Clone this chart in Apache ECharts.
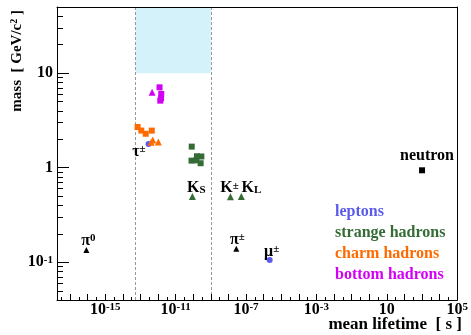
<!DOCTYPE html>
<html><head><meta charset="utf-8">
<script src="https://cdn.jsdelivr.net/npm/echarts@6/dist/echarts.min.js"></script>
<style>html,body{margin:0;padding:0;background:#fff}#c{width:471px;height:335px}</style>
</head><body><div id="c"></div>
<script>
// ---------------- data ----------------
const leptonNames = ['τ±', 'μ±'];
const leptonLifetime = [2.9e-13, 2.2e-6];
const leptonMass = [1.777, 0.1057];

const strangeMesonNames = ['KS', 'K±', 'KL'];
const strangeMesonLifetime = [8.95e-11, 1.3e-8, 5.4e-8];
const strangeMesonMass = [0.4976, 0.4937, 0.4976];
const strangeBaryonLifetime = [8.2e-11, 8.0e-11, 1.48e-10, 2.63e-10, 2.9e-10, 1.64e-10];
const strangeBaryonMass = [1.672, 1.189, 1.197, 1.116, 1.315, 1.322];

const charmMesonLifetime = [4.1e-13, 5.0e-13, 1.04e-12];
const charmMesonMass = [1.865, 1.968, 1.870];
const charmBaryonLifetime = [6.9e-14, 1.12e-13, 2.0e-13, 4.42e-13];
const charmBaryonMass = [2.695, 2.471, 2.286, 2.468];

const bottomMesonLifetime = [4.6e-13];
const bottomMesonMass = [6.28];
const bottomBaryonLifetime = [1.22e-12, 1.52e-12, 1.47e-12, 1.34e-12];
const bottomBaryonMass = [7.08, 6.03, 5.42, 5.12];

const otherTriNames = ['π0', 'π±'];
const otherTriLifetime = [8.5e-17, 2.8e-8];
const otherTriMass = [0.135, 0.1396];
const otherSqNames = ['neutron'];
const otherSqLifetime = [1000];
const otherSqMass = [0.9396];

const boxLifetime = [5.2e-14, 1e-9];
const boxMass = [10, 50];
const xRange = [1.82e-18, 1e5];
const yRange = [0.04, 50];
const xLabelValues = [1e-15, 1e-11, 1e-7, 1e-3, 10, 1e5];
const yLabelValues = [0.1, 1, 10];
const legendNames = ['leptons', 'strange hadrons', 'charm hadrons', 'bottom hadrons'];

// ---------------- style ----------------
const F = 'Liberation Serif';
const colors = {
  'leptons': '#5b5bea', 'strange hadrons': '#356b35',
  'charm hadrons': '#ff6a00', 'bottom hadrons': '#d200f5', 'other': '#000'
};
const rich = {
  b: {fontFamily: F, fontWeight: 'bold', fontSize: 16, color: '#000'},
  sup: {fontFamily: F, fontWeight: 'bold', fontSize: 11, color: '#000', verticalAlign: 'top'},
  sub: {fontFamily: F, fontWeight: 'bold', fontSize: 11, color: '#000', verticalAlign: 'bottom'}
};
const labelText = {
  'π0': '{b|π}{sup|0}', 'π±': '{b|π}{sup|±}', 'τ±': '{b|τ}{sup|±}', 'μ±': '{b|μ}{sup|±}',
  'KS': '{b|K}{sub|S}', 'K±': '{b|K}{sup|±}', 'KL': '{b|K}{sub|L}', 'neutron': '{b|neutron}'
};
const labelPlace = {
  'π0': {position: 'top', distance: -2, offset: [2, 0]},
  'π±': {position: 'top', distance: -2, offset: [1, 0]},
  'μ±': {position: 'top', distance: 0, offset: [2, 3]},
  'τ±': {position: 'left', distance: 0, offset: [0, 8]},
  'KS': {position: 'top', distance: -3, offset: [4, 0]},
  'K±': {position: 'top', distance: -3, offset: [-1, 0]},
  'KL': {position: 'top', distance: -3, offset: [10, 0]},
  'neutron': {position: 'top', distance: 3, offset: [5, 0]}
};

function pts(ts, ms, names) {
  return ts.map((t, i) => {
    const item = {value: [t, ms[i]]};
    if (names) {
      const n = names[i];
      item.name = n;
      item.label = Object.assign({show: true, formatter: labelText[n], rich: rich}, labelPlace[n]);
    }
    return item;
  });
}
function sc(name, symbol, size, data, color) {
  return {
    type: 'scatter', name: name, symbol: symbol, symbolSize: size, data: data,
    itemStyle: {color: color || colors[name], opacity: 1}, z: 5,
    emphasis: {disabled: true}, xAxisIndex: 0, yAxisIndex: 0
  };
}

// ticks
const xMajor = [], xMinor = [];
for (let e = -17; e <= 5; e++) { xMajor.push(Math.pow(10, e)); if (e < 5) xMinor.push(Math.pow(10, e + 0.5)); }
xMinor.unshift(Math.pow(10, -17.5));
const yMajor = yLabelValues.slice();
const yMinor = [];
[0.01, 0.1, 1, 10].forEach(d => { for (let k = 2; k <= 9; k++) { const v = d * k; if (v >= yRange[0] && v <= yRange[1]) yMinor.push(v); } });

function expLabel(v) {
  const e = Math.round(Math.log10(v));
  if (e === 0) return '{b|1}';
  if (e === 1) return '{b|10}';
  return '{b|10}{sup|' + e + '}';
}

const axisBase = (extra) => Object.assign({
  type: 'log', logBase: 10, splitLine: {show: false}, z: 10
}, extra);

const chart = echarts.init(document.getElementById('c'), null, {renderer: 'canvas'});
chart.setOption({
  animation: false,
  backgroundColor: '#fff',
  grid: {left: 57, right: 11, top: 7, bottom: 35, containLabel: false},
  xAxis: [
    axisBase({position: 'bottom', min: xRange[0], max: xRange[1],
      axisLine: {show: true, lineStyle: {color: '#000', width: 1}},
      axisTick: {show: true, inside: true, length: 6, customValues: xMajor, lineStyle: {color: '#000'}},
      axisLabel: {show: true, customValues: xLabelValues, margin: 2, formatter: expLabel, rich: rich}}),
    axisBase({position: 'bottom', min: xRange[0], max: xRange[1],
      axisLine: {show: false},
      axisTick: {show: true, inside: true, length: 3, customValues: xMinor, lineStyle: {color: '#000'}},
      axisLabel: {show: false}}),
    axisBase({position: 'top', min: xRange[0], max: xRange[1],
      axisLine: {show: true, lineStyle: {color: '#000', width: 1}},
      axisTick: {show: false}, axisLabel: {show: false}})
  ],
  yAxis: [
    axisBase({position: 'left', min: yRange[0], max: yRange[1],
      axisLine: {show: true, lineStyle: {color: '#000', width: 1}},
      axisTick: {show: true, inside: true, length: 12, customValues: yMajor, lineStyle: {color: '#000'}},
      axisLabel: {show: true, customValues: yLabelValues, margin: 4, formatter: expLabel, rich: rich}}),
    axisBase({position: 'left', min: yRange[0], max: yRange[1],
      axisLine: {show: false},
      axisTick: {show: true, inside: true, length: 6, customValues: yMinor, lineStyle: {color: '#000'}},
      axisLabel: {show: false}}),
    axisBase({position: 'right', min: yRange[0], max: yRange[1],
      axisLine: {show: true, lineStyle: {color: '#000', width: 1}},
      axisTick: {show: false}, axisLabel: {show: false}})
  ],
  legend: {
    show: true, orient: 'vertical', left: 325, top: 199, icon: 'none',
    itemWidth: 0, itemHeight: 14, itemGap: 5, selectedMode: false,
    data: legendNames.map(n => ({name: n, textStyle: {color: colors[n]}})),
    textStyle: {fontFamily: F, fontWeight: 'bold', fontSize: 16}
  },
  graphic: [
    {type: 'text', x: 17, y: 10, rotation: Math.PI / 2, silent: true,
      style: {text: '{t|mass  [ GeV/c}{s|2}{t| ]}', align: 'right', verticalAlign: 'middle',
        rich: {t: {fontFamily: F, fontWeight: 'bold', fontSize: 15, fill: '#000'},
               s: {fontFamily: F, fontWeight: 'bold', fontSize: 10, fill: '#000', verticalAlign: 'top'}}}},
    {type: 'text', x: 462, y: 325, silent: true,
      style: {text: 'mean lifetime  [ s ]', align: 'right', verticalAlign: 'middle',
        font: 'bold 17px "Liberation Serif"', fill: '#000'}}
  ],
  series: [
    {type: 'scatter', name: 'box', data: [], z: 1, xAxisIndex: 0, yAxisIndex: 0,
      markArea: {silent: true, itemStyle: {color: '#d4f2fa'},
        data: [[{xAxis: boxLifetime[0], yAxis: boxMass[0]}, {xAxis: boxLifetime[1], yAxis: boxMass[1]}]]},
      markLine: {silent: true, symbol: 'none', label: {show: false},
        lineStyle: {type: [3, 2], color: '#999', width: 1},
        data: boxLifetime.map(t => [{xAxis: t, yAxis: yRange[0]}, {xAxis: t, yAxis: yRange[1]}])}},
    sc('leptons', 'circle', 6, pts(leptonLifetime, leptonMass, leptonNames)),
    sc('strange hadrons', 'triangle', 7, pts(strangeMesonLifetime, strangeMesonMass, strangeMesonNames)),
    sc('strange hadrons', 'rect', 6, pts(strangeBaryonLifetime, strangeBaryonMass)),
    sc('charm hadrons', 'triangle', 7, pts(charmMesonLifetime, charmMesonMass)),
    sc('charm hadrons', 'rect', 6, pts(charmBaryonLifetime, charmBaryonMass)),
    sc('bottom hadrons', 'triangle', 7, pts(bottomMesonLifetime, bottomMesonMass)),
    sc('bottom hadrons', 'rect', 6, pts(bottomBaryonLifetime, bottomBaryonMass)),
    sc('other', 'triangle', 6, pts(otherTriLifetime, otherTriMass, otherTriNames), '#000'),
    sc('other', 'rect', 6, pts(otherSqLifetime, otherSqMass, otherSqNames), '#000')
  ]
});
</script>
</body></html>
